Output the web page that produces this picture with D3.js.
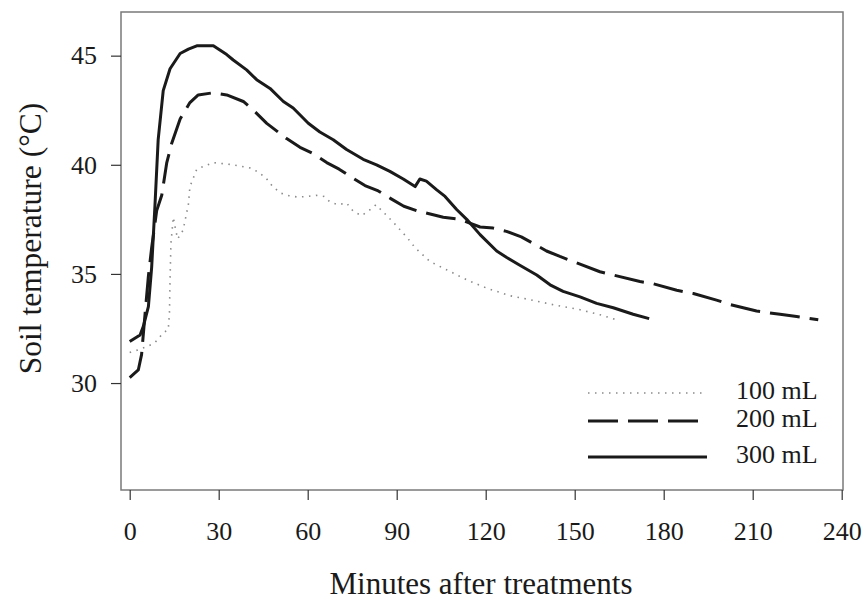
<!DOCTYPE html>
<html>
<head>
<meta charset="utf-8">
<script src="https://cdn.jsdelivr.net/npm/d3@7"></script>
<style>
  body { margin: 0; background: #fff; }
  svg { display: block; }
  text { font-family: "Liberation Serif", "Times New Roman", serif; fill: #1a1a1a; }
</style>
</head>
<body>
<svg id="chart" width="865" height="604"></svg>
<script>
// minutes after treatment / soil temperature
var t100 = [0, 3.5, 6.3, 8.5, 11.3, 13.0, 13.4, 13.6, 13.9, 14.7, 15.5, 16.2, 17, 18, 18.6, 19.8, 20.3, 22.6, 28.2, 34.9,
            40.6, 43.3, 45.9, 48.2, 50.9, 53.8, 56.8, 59.7, 62.8, 65.5, 67.5, 70.3, 73.1, 75.4, 78.2, 81, 83, 86, 88.9,
            91.3, 93.9, 96.2, 101.2, 106.8, 113.6, 120.3, 128.2, 134.9, 142.8, 151.8, 158.5, 164.1];
var v100 = [31.4, 31.55, 31.7, 31.85, 32.3, 32.45, 33.2, 34.7, 36.4, 37.6, 37.0, 36.6, 36.8, 37.0, 37.4, 38.2, 39.0, 39.8, 40.1, 40.0,
            39.85, 39.67, 39.4, 39.0, 38.7, 38.58, 38.52, 38.55, 38.6, 38.55, 38.3, 38.17, 38.25, 37.86, 37.67, 37.94, 38.17, 37.76, 37.36,
            37.0, 36.6, 36.2, 35.57, 35.19, 34.73, 34.35, 34.0, 33.82, 33.59, 33.36, 33.13, 32.9];

var t200 = [0, 2.9, 4.0, 5.2, 6.3, 7.4, 9.1, 10.8, 12.5, 14.2, 17, 20.3, 23.1, 28.2, 32.7, 38.3, 41.7, 46.2, 52.9, 57.4,
            62, 66.4, 70.6, 74.5, 79.3, 83.8, 88, 92.4, 96.7, 105.7, 111.3, 118.1, 122.5, 127, 132, 136, 140.5, 145,
            151.8, 158.5, 163, 172, 176.5, 184.4, 190, 197.8, 202.3, 211.3, 219.2, 224.8, 232.1];
var v200 = [30.25, 30.6, 31.3, 33.2, 34.9, 36.2, 37.9, 38.6, 40.1, 41.0, 42.1, 42.85, 43.2, 43.3, 43.2, 42.9, 42.5, 41.9, 41.2, 40.8,
            40.5, 40.1, 39.8, 39.45, 39.05, 38.8, 38.45, 38.1, 37.9, 37.6, 37.5, 37.15, 37.1, 36.95, 36.7, 36.4, 36.05, 35.8,
            35.45, 35.1, 34.95, 34.65, 34.55, 34.25, 34.1, 33.8, 33.6, 33.3, 33.15, 33.05, 32.9];

var t300 = [0, 3.5, 4.6, 6.3, 7.4, 8.5, 9.6, 11.3, 13.6, 17, 19.8, 22.6, 28.2, 32.7, 34.9, 39.4, 42.8, 47.3, 51.8, 55.1,
            60.2, 64.1, 68.6, 73.1, 78.7, 83.2, 87.7, 92.2, 96.2, 97.8, 100, 103.5, 106.3, 110.2, 113.6, 118.1, 123.7,
            127.1, 131.5, 137.2, 141.7, 146.1, 151.8, 157.4, 163, 169.7, 175.1];
var v300 = [31.9, 32.2, 32.6, 33.5, 35.3, 38.1, 41.15, 43.4, 44.4, 45.1, 45.3, 45.45, 45.45, 45.05, 44.8, 44.35, 43.9, 43.5, 42.9, 42.6,
            41.9, 41.5, 41.15, 40.7, 40.25, 40.0, 39.7, 39.35, 39.0, 39.35, 39.25, 38.85, 38.55, 37.95, 37.5, 36.8, 36.05,
            35.75, 35.4, 34.95, 34.5, 34.2, 33.95, 33.65, 33.45, 33.15, 32.95];

var seriesNames = ["100 mL", "200 mL", "300 mL"];
var xTicks = [0, 30, 60, 90, 120, 150, 180, 210, 240];
var yTicks = [30, 35, 40, 45];

var svg = d3.select("#chart");
var fl = 121, ft = 12, fr = 843, fb = 490; // frame box

var x = d3.scaleLinear().domain([0, 240]).range([129.7, 841.7]);
var y = d3.scaleLinear().domain([25.1, 47]).range([fb, ft]);

// frame
svg.append("rect")
  .attr("x", fl).attr("y", ft).attr("width", fr - fl).attr("height", fb - ft)
  .attr("fill", "none").attr("stroke", "#7a7a7a").attr("stroke-width", 1.5);

// axes
var gx = svg.append("g").attr("transform", "translate(0," + fb + ")")
  .call(d3.axisBottom(x).tickValues(xTicks).tickSize(10).tickPadding(22));
var gy = svg.append("g").attr("transform", "translate(" + fl + ",0)")
  .call(d3.axisLeft(y).tickValues(yTicks).tickSize(10).tickPadding(14));
[gx, gy].forEach(function(g){
  g.select(".domain").remove();
  g.selectAll(".tick line").attr("stroke", "#333").attr("stroke-width", 1.2);
  g.selectAll(".tick text").attr("font-size", 26)
    .attr("font-family", "'Liberation Serif', 'Times New Roman', serif").attr("fill", "#1a1a1a");
});

// titles
svg.append("text").attr("x", 481).attr("y", 594).attr("text-anchor", "middle")
  .attr("font-size", 31).text("Minutes after treatments");
svg.append("text").attr("transform", "translate(41,238.5) rotate(-90)").attr("text-anchor", "middle")
  .attr("font-size", 31.5).text("Soil temperature (°C)");

// curves
var styles = [
  {stroke: "#8a8a8a", width: 1.6, dash: "1.5,5.5"},
  {stroke: "#1a1a1a", width: 3, dash: "30,10"},
  {stroke: "#1a1a1a", width: 3, dash: null}
];
var data = [
  d3.zip(t100, v100),
  d3.zip(t200, v200),
  d3.zip(t300, v300)
];
var line = d3.line().x(function(d){ return x(d[0]); }).y(function(d){ return y(d[1]); });

data.forEach(function(d, i){
  svg.append("path").datum(d)
    .attr("d", line)
    .attr("fill", "none")
    .attr("stroke", styles[i].stroke)
    .attr("stroke-width", styles[i].width)
    .attr("stroke-dasharray", styles[i].dash)
    .attr("stroke-linejoin", "round");
});

// legend
var legY = [393, 421, 457];
var leg = svg.append("g");
seriesNames.forEach(function(name, i){
  leg.append("line")
    .attr("x1", 588).attr("x2", 707).attr("y1", legY[i]).attr("y2", legY[i])
    .attr("stroke", styles[i].stroke)
    .attr("stroke-width", styles[i].width)
    .attr("stroke-dasharray", styles[i].dash);
  leg.append("text").attr("x", 736).attr("y", legY[i] + 6)
    .attr("font-size", 26).text(name);
});
</script>
</body>
</html>
